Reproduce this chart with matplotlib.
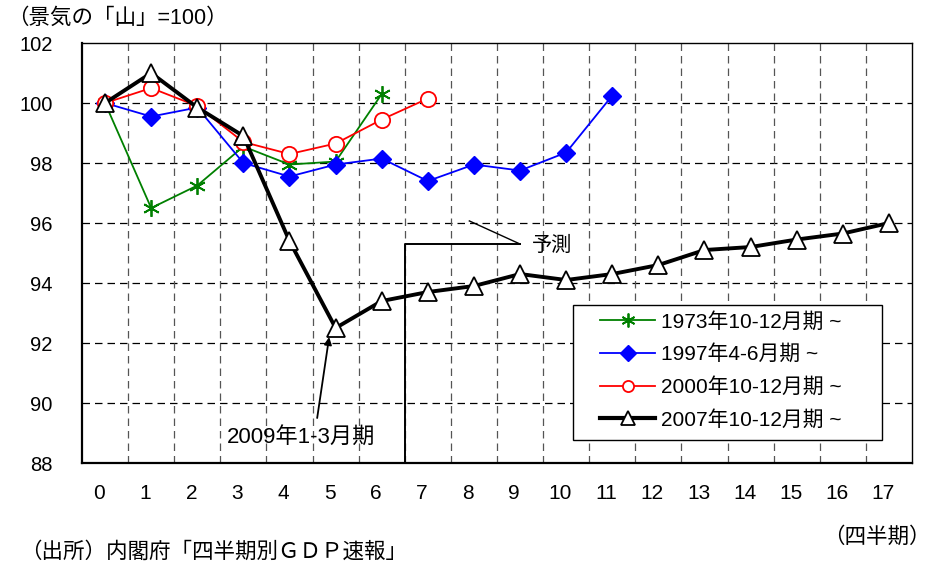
import matplotlib
matplotlib.use("Agg")
import matplotlib.pyplot as plt
from matplotlib.lines import Line2D
from matplotlib.patches import Rectangle

plt.rcParams['font.family'] = ['Liberation Sans', 'Noto Sans CJK JP']

# 四半期（景気の山 = 0）
quarters = list(range(18))
xlabels = [str(q) for q in quarters]

# 景気の山 = 100 とした実質GDPの推移
gdp_1973 = [100.0, 96.5, 97.25, 98.55, 97.95, 98.05, 100.3]
gdp_1997 = [100.0, 99.55, 99.85, 98.0, 97.55, 97.95, 98.15, 97.4, 97.95, 97.75, 98.35, 100.25]
gdp_2000 = [100.0, 100.5, 99.9, 98.7, 98.3, 98.65, 99.45, 100.15]
gdp_2007 = [100.0, 101.0, 99.85, 98.9, 95.4, 92.5, 93.4, 93.7, 93.9, 94.3, 94.1,
            94.3, 94.6, 95.1, 95.2, 95.45, 95.65, 96.0]

names = ["1973年10-12月期 ~", "1997年4-6月期 ~", "2000年10-12月期 ~", "2007年10-12月期 ~"]
yticks = [88, 90, 92, 94, 96, 98, 100, 102]

forecast_start = 6.5   # ここから予測値
trough_q = 5           # 2009年1-3月期

fig = plt.figure(figsize=(9.35, 5.67), dpi=100)
ax = fig.add_axes([0.0877, 0.1834, 0.8877, 0.7407])

# 点線のグリッド
for y in yticks[1:-1]:
    ax.axhline(y, color="black", lw=0.9, ls=(0, (6, 4)), zorder=1)
for q in quarters[:-1]:
    ax.axvline(q + 0.5, color="#555555", lw=0.9, ls=(0, (6, 4)), zorder=1)

ax.plot(quarters[:len(gdp_1973)], gdp_1973, color="#008000", lw=1.3,
        marker=(6, 2, 0), ms=12, mew=1.3, zorder=3)
ax.plot(quarters[:len(gdp_1997)], gdp_1997, color="#0000ff", lw=1.3,
        marker="D", ms=9, mec="#0000ff", zorder=4)
ax.plot(quarters[:len(gdp_2000)], gdp_2000, color="#ff0000", lw=1.3,
        marker="o", ms=11, mfc="white", mew=1.3, zorder=5)
ax.plot(quarters, gdp_2007, color="black", lw=2.8,
        marker="^", ms=13, mfc="white", mew=1.3, zorder=6)

ax.set_xlim(-0.5, 17.5)
ax.set_ylim(88, 102)
ax.set_yticks(yticks)
ax.set_yticklabels([str(y) for y in yticks], fontsize=14.5)
ax.set_xticks([q - 0.13 for q in quarters])
ax.set_xticklabels(xlabels, fontsize=15,
                   family=['Liberation Sans Narrow', 'Liberation Sans'])
ax.tick_params(length=0)
ax.tick_params(axis="x", pad=15)
ax.tick_params(axis="y", pad=21)
for side in ["top", "right"]:
    ax.spines[side].set_linewidth(1.0)
for side in ["left", "bottom"]:
    ax.spines[side].set_linewidth(1.6)

# 予測の区切り線
ax.plot([forecast_start, forecast_start, 9.0], [88, 95.3, 95.3], color="black", lw=1.4,
        zorder=2, clip_on=False)
ax.plot([7.9, 9.0], [96.07, 95.3], color="black", lw=1.0, zorder=2)
ax.text(9.25, 95.27, "予測", fontsize=14.5, va="center", ha="left")

# 谷の注記
ax.text(4.25, 88.87, "2009年1-3月期", fontsize=16, ha="center", va="center")
ax.annotate("", xy=(4.86, 92.2), xytext=(4.6, 89.5),
            arrowprops=dict(arrowstyle="-|>", color="black", lw=1.3,
                            mutation_scale=11, shrinkA=0, shrinkB=0))

# 凡例（枠は別に描く）
legend_handles = [
    Line2D([], [], color="#008000", lw=1.3, marker=(6, 2, 0), ms=10, mew=1.3),
    Line2D([], [], color="#0000ff", lw=1.3, marker="D", ms=8),
    Line2D([], [], color="#ff0000", lw=1.3, marker="o", ms=8, mfc="white", mew=1.3),
    Line2D([], [], color="black", lw=3.0, marker="^", ms=10, mfc="white", mew=1.3),
]
ax.add_patch(Rectangle((0.5916, 0.0548), 0.3723, 0.3212, transform=ax.transAxes,
                       facecolor="white", edgecolor="black", lw=1.0, zorder=7))
leg = ax.legend(legend_handles, names, loc="upper left", bbox_to_anchor=(0.624, 0.36),
                fontsize=15, frameon=False, handlelength=2.65, labelspacing=0.62,
                borderpad=0, handletextpad=0.3, borderaxespad=0)
leg.set_zorder(8)

fig.text(0.008, 0.968, "（景気の「山」=100）", fontsize=15.5, ha="left", va="center")
fig.text(0.995, 1 - 537 / 567, "（四半期）", fontsize=15.5, ha="right", va="center")
fig.text(0.022, 1 - 552 / 567, "（出所）内閣府「四半期別ＧＤＰ速報」", fontsize=15.5,
         ha="left", va="center")

fig.savefig("out.png", dpi=100)
